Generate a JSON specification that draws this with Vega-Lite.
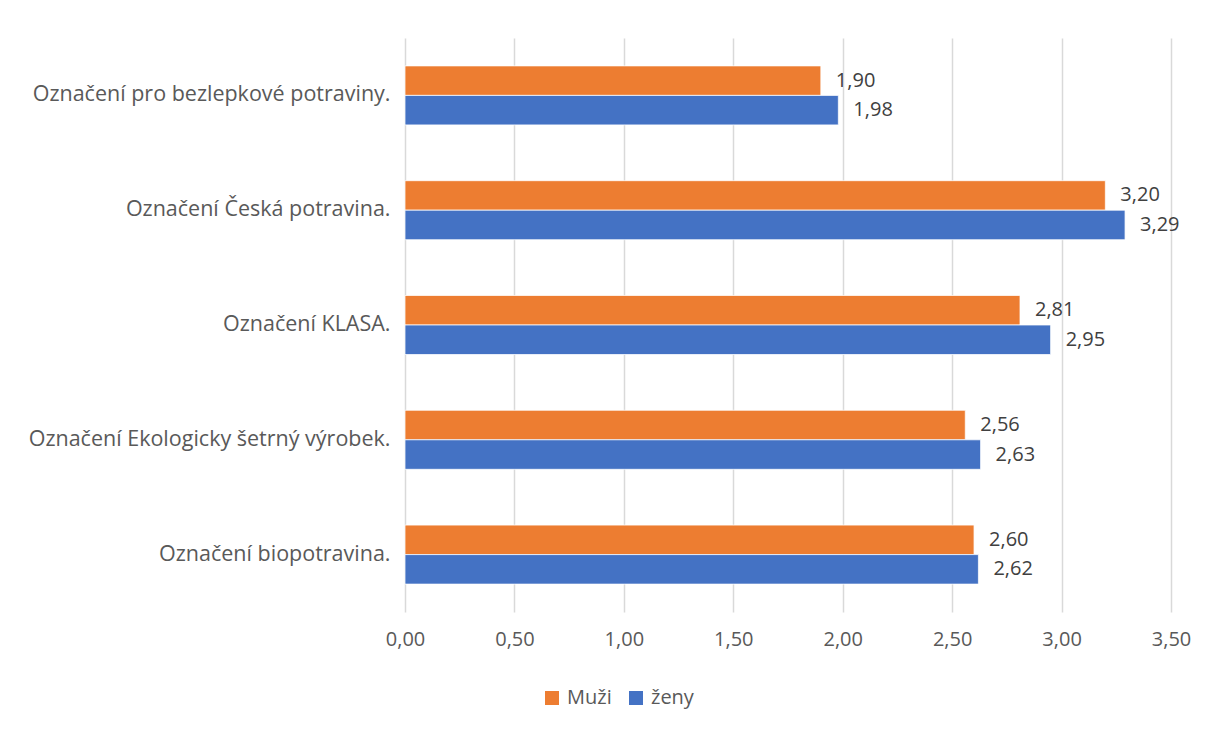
{
  "$schema": "https://vega.github.io/schema/vega-lite/v6.json",
  "autosize": "none",
  "width": 766,
  "height": 574,
  "padding": {"left": 405, "top": 38, "right": 38, "bottom": 117},
  "background": "white",
  "config": {
    "font": "Open Sans",
    "view": {"stroke": null},
    "axis": {"labelFont": "Open Sans", "labelColor": "#595959", "labelFontSize": 20}
  },
  "data": {
    "values": [
      {"kategorie": "Označení pro bezlepkové potraviny.", "skupina": "Muži", "hodnota": 1.90},
      {"kategorie": "Označení pro bezlepkové potraviny.", "skupina": "ženy", "hodnota": 1.98},
      {"kategorie": "Označení Česká potravina.", "skupina": "Muži", "hodnota": 3.20},
      {"kategorie": "Označení Česká potravina.", "skupina": "ženy", "hodnota": 3.29},
      {"kategorie": "Označení KLASA.", "skupina": "Muži", "hodnota": 2.81},
      {"kategorie": "Označení KLASA.", "skupina": "ženy", "hodnota": 2.95},
      {"kategorie": "Označení Ekologicky šetrný výrobek.", "skupina": "Muži", "hodnota": 2.56},
      {"kategorie": "Označení Ekologicky šetrný výrobek.", "skupina": "ženy", "hodnota": 2.63},
      {"kategorie": "Označení biopotravina.", "skupina": "Muži", "hodnota": 2.60},
      {"kategorie": "Označení biopotravina.", "skupina": "ženy", "hodnota": 2.62}
    ]
  },
  "encoding": {
    "y": {
      "field": "kategorie",
      "type": "nominal",
      "sort": null,
      "title": null,
      "scale": {"paddingInner": 0.486, "paddingOuter": 0.243},
      "axis": {"domain": false, "ticks": false, "labelPadding": 15, "labelLimit": 400, "labelFontSize": 21.5}
    },
    "yOffset": {"field": "skupina", "type": "nominal", "sort": ["Muži", "ženy"]},
    "x": {
      "field": "hodnota",
      "type": "quantitative",
      "title": null,
      "scale": {"domain": [0, 3.5], "nice": false},
      "axis": {
        "values": [0, 0.5, 1, 1.5, 2, 2.5, 3, 3.5],
        "labelExpr": "replace(format(datum.value, '.2f'), '.', ',')",
        "labelFlush": false,
        "domain": false,
        "ticks": false,
        "grid": true,
        "gridColor": "#d9d9d9",
        "gridWidth": 1.5,
        "labelPadding": 17
      }
    }
  },
  "layer": [
    {
      "mark": {"type": "bar", "stroke": "white", "strokeWidth": 0.75},
      "encoding": {
        "color": {
          "field": "skupina",
          "type": "nominal",
          "scale": {"domain": ["Muži", "ženy"], "range": ["#ED7D31", "#4472C4"]},
          "legend": {
            "title": null,
            "orient": "none",
            "legendX": 137,
            "legendY": 650,
            "direction": "horizontal",
            "symbolType": "square",
            "symbolSize": 196,
            "symbolStrokeWidth": 0,
            "labelFont": "Open Sans",
            "labelFontSize": 20,
            "labelColor": "#595959",
            "columnPadding": 14,
            "labelOffset": 5
          }
        }
      }
    },
    {
      "mark": {
        "type": "text",
        "align": "left",
        "baseline": "middle",
        "dx": 15,
        "font": "Open Sans",
        "fontSize": 20,
        "color": "#404040",
        "text": {"expr": "replace(format(datum.hodnota, '.2f'), '.', ',')"}
      }
    }
  ]
}
